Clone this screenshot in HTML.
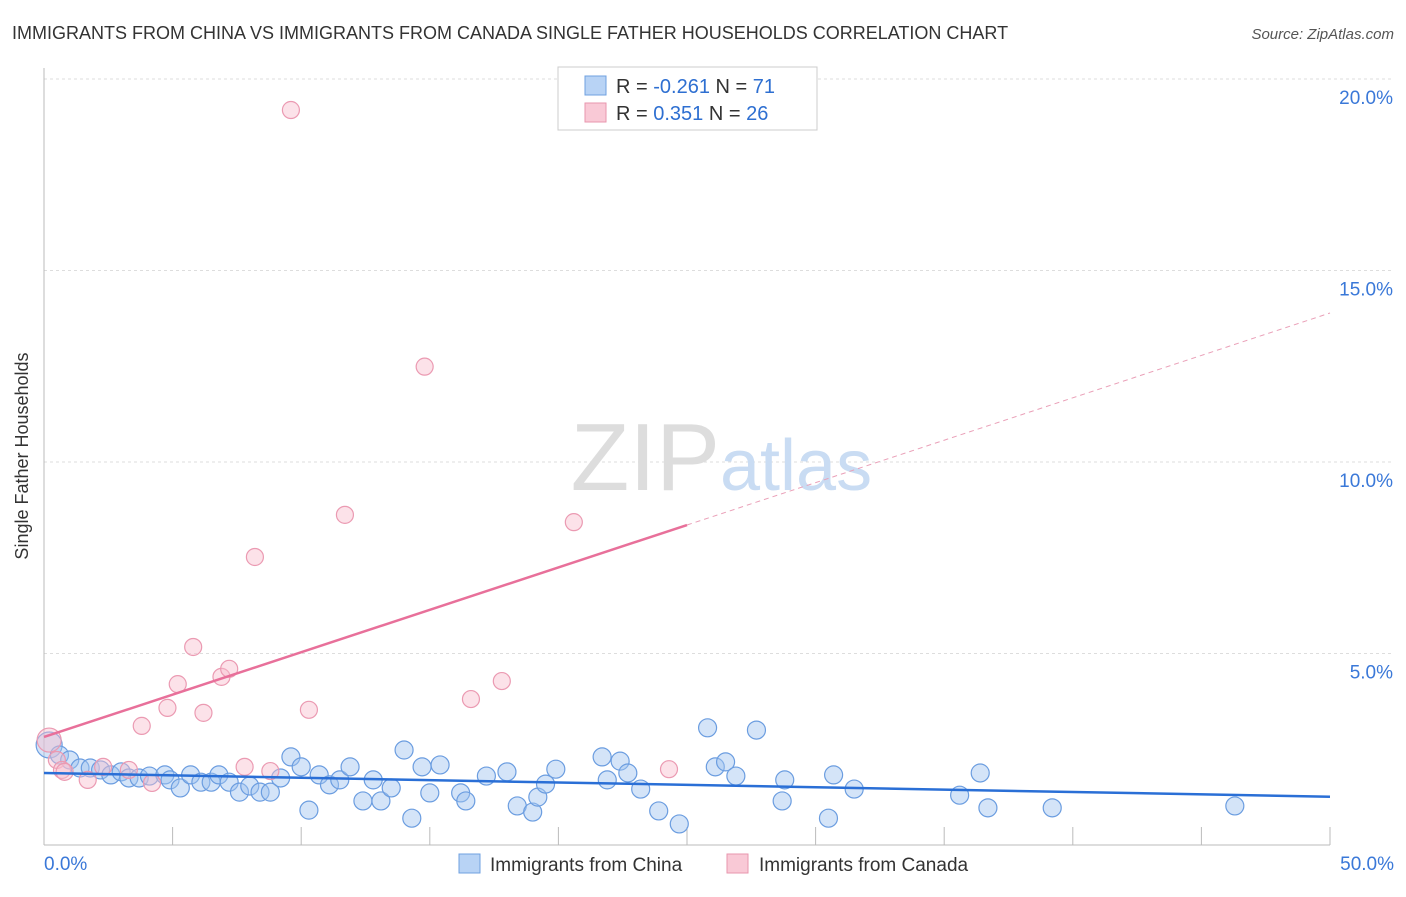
<!DOCTYPE html>
<html><head><meta charset="utf-8"><style>
body{margin:0;background:#fff;font-family:"Liberation Sans",sans-serif}
svg text{font-family:"Liberation Sans",sans-serif}
</style></head><body>
<svg id="chart" width="1406" height="892">
<text x="12" y="39" font-size="18" fill="#333">IMMIGRANTS FROM CHINA VS IMMIGRANTS FROM CANADA SINGLE FATHER HOUSEHOLDS CORRELATION CHART</text>
<text x="1394" y="39" font-size="15" fill="#555" font-style="italic" text-anchor="end">Source: ZipAtlas.com</text>
<text x="28" y="456" font-size="18" fill="#333" transform="rotate(-90 28 456)" text-anchor="middle">Single Father Households</text>
<g id="grid"></g>
<text x="720" y="490" font-size="96" fill="#ddd" font-family="Liberation Serif" text-anchor="end">ZIP</text>
<text x="720" y="490" font-size="72" fill="#c9dcf3">atlas</text>
<g id="points"></g>
<g id="trends"></g>
<g>
<rect x="558" y="67" width="259" height="63" fill="#fff" stroke="#ccc"/>
<rect x="585" y="76" width="21" height="19" fill="#b8d3f5" stroke="#6fa0e0"/>
<rect x="585" y="103" width="21" height="19" fill="#f9c9d6" stroke="#e896ae"/>
<text x="616" y="93" font-size="20" fill="#333">R = <tspan fill="#2e6fd1">-0.261</tspan>   N = <tspan fill="#2e6fd1"> 71</tspan></text>
<text x="616" y="120" font-size="20" fill="#333">R =  <tspan fill="#2e6fd1"> 0.351</tspan>   N = <tspan fill="#2e6fd1">26</tspan></text>
</g>
<g>
<rect x="459" y="854" width="21" height="19" fill="#b8d3f5" stroke="#6fa0e0"/>
<text x="490" y="871" font-size="19" fill="#333">Immigrants from China</text>
<rect x="727" y="854" width="21" height="19" fill="#f9c9d6" stroke="#e896ae"/>
<text x="759" y="871" font-size="19" fill="#333">Immigrants from Canada</text>
</g>
</svg>
<script>
const yTicks=[5,10,15,20];
const yTickLabels=["5.0%","10.0%","15.0%","20.0%"];
const xTickLabels=["0.0%","50.0%"];
const chinaX=[0.2,0.6,1.0,1.4,1.8,2.2,2.6,3.0,3.3,3.7,4.1,4.7,4.9,5.3,5.7,6.1,6.5,6.8,7.2,7.6,8.0,8.4,8.8,9.2,9.6,10.0,10.3,10.7,11.1,11.5,11.9,12.4,12.8,13.1,13.5,14.0,14.3,14.7,15.0,15.4,16.2,16.4,17.2,18.0,18.4,19.0,19.2,19.5,19.9,21.7,21.9,22.4,22.7,23.2,23.9,24.7,25.8,26.1,26.5,26.9,27.7,28.8,28.7,30.5,30.7,31.5,35.6,36.4,36.7,39.2,46.3];
const chinaY=[2.61,2.35,2.22,2.01,2.01,1.96,1.83,1.91,1.75,1.75,1.80,1.83,1.70,1.49,1.83,1.64,1.64,1.83,1.64,1.38,1.54,1.38,1.38,1.75,2.30,2.04,0.91,1.83,1.57,1.70,2.04,1.15,1.70,1.15,1.49,2.48,0.70,2.04,1.36,2.09,1.36,1.15,1.80,1.91,1.02,0.86,1.25,1.59,1.98,2.30,1.70,2.19,1.88,1.46,0.89,0.55,3.06,2.04,2.17,1.80,3.00,1.70,1.15,0.70,1.83,1.46,1.30,1.88,0.97,0.97,1.02];
const canadaX=[0.2,0.5,0.7,0.8,1.7,2.3,3.3,3.8,4.2,4.8,5.2,5.8,6.2,6.9,7.2,7.8,8.2,8.8,9.6,10.3,11.7,14.8,16.6,17.8,20.6,24.3];
const canadaY=[2.74,2.22,1.96,1.91,1.70,2.04,1.96,3.11,1.62,3.58,4.20,5.17,3.45,4.39,4.60,2.04,7.52,1.93,19.19,3.53,8.62,12.49,3.81,4.28,8.43,1.98];
const chinaTrend=[1.88,1.26];
const canadaTrend=[2.82,13.89];
const svg=document.getElementById('chart');
const NS='http://www.w3.org/2000/svg';
const X0=44,X1=1330,Y0=845,Y20=79;
const sx=v=>X0+(X1-X0)*v/50;
const sy=v=>Y0-(Y0-Y20)*v/20;
function mk(tag,attrs,parent){const e=document.createElementNS(NS,tag);for(const k in attrs)e.setAttribute(k,attrs[k]);parent.appendChild(e);return e;}
const grid=document.getElementById('grid');
yTicks.forEach((t,i)=>{
 const l=mk('line',{x1:44,x2:1394,y1:sy(t),y2:sy(t),stroke:'#ddd','stroke-dasharray':'3,3'},grid);
 
 
 const tx=mk('text',{x:1393,y:sy(t)+25,'font-size':19,fill:'#3a78d8','text-anchor':'end'},grid);
 tx.textContent=yTickLabels[i];
 
 
});
const ax=mk('line',{x1:44,x2:44,y1:68,y2:845,stroke:'#bbb'},grid);


const bx=mk('line',{x1:44,x2:1330,y1:845,y2:845,stroke:'#bbb'},grid);


for(let i=1;i<=10;i++){
 const t=mk('line',{x1:sx(i*5),x2:sx(i*5),y1:827,y2:845,stroke:'#bbb'},grid);
 
 
}
[[0,'start',44],[50,'end',1394]].forEach((d,i)=>{
 const tx=mk('text',{x:d[2],y:870,'font-size':19,fill:'#3a78d8','text-anchor':d[1]},grid);
 tx.textContent=xTickLabels[i];
 
 
});
const pts=document.getElementById('points');
chinaX.forEach((x,i)=>{
 const c=mk('circle',{cx:sx(x),cy:sy(chinaY[i]),r:i===0?13:9,fill:'rgba(160,196,240,0.45)',stroke:'#6b9de0','stroke-width':1.2},pts);
 
 
});
canadaX.forEach((x,i)=>{
 const c=mk('circle',{cx:sx(x),cy:sy(canadaY[i]),r:i===0?12:8.5,fill:'rgba(248,190,206,0.45)',stroke:'#eb9ab2','stroke-width':1.2},pts);
 
 
});
const tr=document.getElementById('trends');
const b=mk('line',{x1:sx(0),y1:sy(chinaTrend[0]),x2:sx(50),y2:sy(chinaTrend[1]),stroke:'#2a6fd6','stroke-width':2.5},tr);


const split=25;
const cy=v=>canadaTrend[0]+(canadaTrend[1]-canadaTrend[0])*v/50;
const p1=mk('line',{x1:sx(0),y1:sy(cy(0)),x2:sx(split),y2:sy(cy(split)),stroke:'#e8709a','stroke-width':2.5},tr);


const p2=mk('line',{x1:sx(split),y1:sy(cy(split)),x2:sx(50),y2:sy(cy(50)),stroke:'#eaa0b8','stroke-width':1,'stroke-dasharray':'5,4'},tr);


</script>
</body></html>
